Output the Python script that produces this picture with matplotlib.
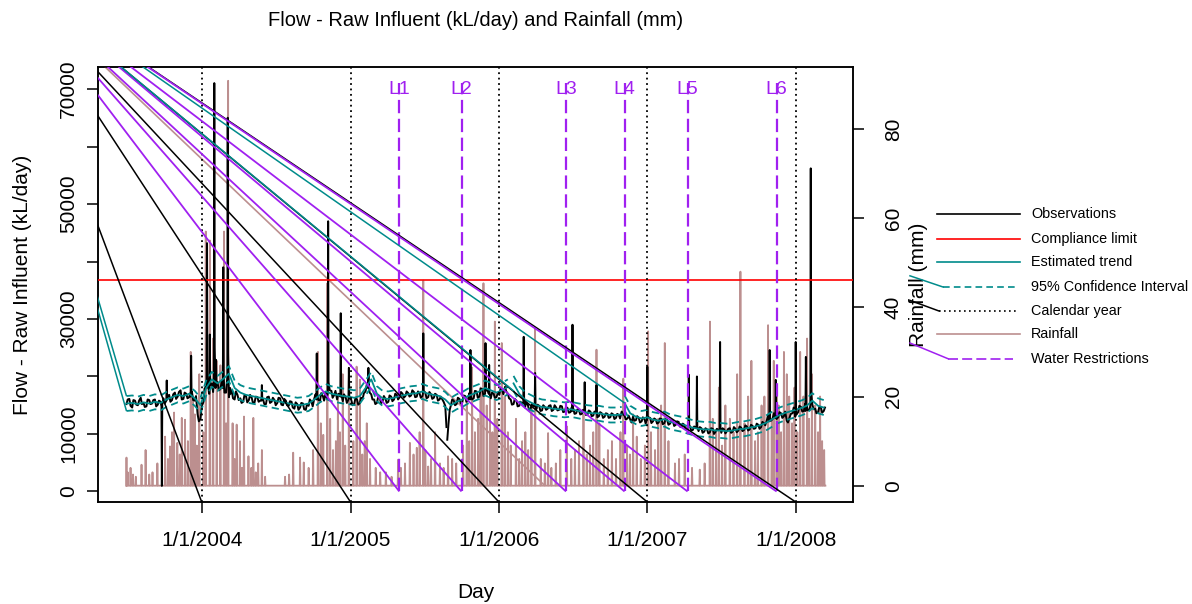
import numpy as np
import pandas as pd
import matplotlib
matplotlib.use("Agg")
import matplotlib.pyplot as plt
import matplotlib.dates as mdates

plt.rcParams['font.family'] = ['Liberation Sans', 'DejaVu Sans']

W, H, DPI = 1192, 604, 100

# ---------------------------------------------------------------- data
# Raw influent flow, thousand kL/day: weekly readings plus mid-week readings.
flow_seg1_start = "2003-06-30"
flow_seg1_weekly = [
    15.2, 16.1, 14.6, 15.8,
    15.0, 16.3, 15.4, 14.8, 15.9,
    15.3, 16.0, 15.1, 15.6,
    16.2, 15.4, 16.8, 15.9, 17.2,
    16.5, 17.6, 16.1, 17.0,
    16.4, 17.3, 15.8, 13.4, 12.6,
    15.5, 18.2, 17.0, 18.8,
    17.5, 19.0, 17.8, 18.4,
    17.2, 16.4, 17.6, 16.0, 16.8,
    16.2, 15.6, 16.6, 15.9,
    16.3, 15.5, 16.4, 15.8,
    16.0, 15.2, 16.5, 15.6, 15.9,
    15.4, 16.2, 15.0, 15.8,
    14.9, 15.6, 14.4, 15.2,
    14.6, 15.3, 14.2, 14.9, 15.6,
    16.2, 17.0, 15.8, 16.6,
    17.2, 16.4, 17.5, 16.8,
    16.0, 16.9, 15.7, 16.4, 15.5,
    15.9, 15.2, 16.0, 15.4,
    16.2, 17.4, 18.3, 16.9,
    16.0, 15.4, 16.3, 15.7,
    16.1, 15.6, 16.5, 16.0, 16.8,
    16.4, 17.0, 16.6, 17.1,
    16.7, 17.3, 16.5, 17.0,
    16.6, 17.2, 16.4, 16.9,
    16.3, 16.8, 16.0,
]
flow_seg1_midweek = [
    16.0, 14.9, 15.9, 15.1,
    15.8, 15.2, 14.7, 16.0, 15.2,
    15.9, 14.8, 15.8, 15.0,
    15.3, 16.6, 15.6, 16.9, 16.1,
    17.3, 16.0, 17.2, 16.2,
    17.1, 15.9, 16.6, 12.2, 14.8,
    17.9, 16.8, 18.9, 17.3,
    18.7, 17.6, 19.1, 17.2,
    16.5, 17.5, 16.2, 17.4, 15.9,
    15.4, 16.7, 15.5, 16.8,
    15.4, 16.5, 15.6, 16.7,
    15.2, 16.4, 15.4, 16.3, 15.0,
    16.3, 15.1, 16.1, 15.0,
    15.7, 14.6, 15.5, 14.2,
    15.4, 14.3, 15.2, 16.0, 14.8,
    16.9, 15.9, 17.1, 15.8,
    16.2, 17.6, 16.3, 17.5,
    17.0, 15.8, 16.9, 15.4, 16.4,
    15.0, 16.2, 15.1, 16.3,
    17.1, 18.6, 17.2, 16.0,
    15.2, 16.4, 15.3, 16.6,
    15.4, 16.7, 15.7, 17.0, 16.0,
    17.3, 16.3, 17.4, 16.5,
    17.6, 16.4, 17.4, 16.3,
    17.4, 16.2, 17.3, 16.1,
    17.0, 15.8, 16.5,
]
flow_seg1_tail = [("2005-08-18", 15.6), ("2005-08-22", 14.9), ("2005-08-25", 11.2)]

flow_seg2_head = [("2005-08-27", 9.0), ("2005-08-30", 11.8), ("2005-09-02", 14.2)]
flow_seg2_start = "2005-09-05"
flow_seg2_weekly = [
    15.0, 15.8, 15.2, 16.1,
    15.5, 16.6, 15.9, 17.0,
    16.2, 17.4, 16.5, 17.8,
    16.9, 17.5, 16.2, 17.0, 16.4,
    16.8, 17.6, 18.2, 17.0,
    16.0, 15.2, 15.8, 14.9,
    15.3, 14.6, 15.1, 14.4, 14.9,
    14.3, 14.9, 14.1, 14.7,
    14.4, 15.0, 14.2, 14.6,
    14.2, 14.8, 13.9, 14.5,
    13.8, 14.4, 13.6, 14.1, 13.5,
    14.0, 13.4, 13.9, 13.2,
    13.7, 13.1, 13.6, 13.0,
    13.5, 12.9, 13.4, 12.8, 13.3,
    13.9, 13.2, 12.7, 12.5,
    13.0, 12.4, 12.8, 12.2,
    12.6, 12.1, 12.8, 12.2, 12.5,
    12.0, 12.6, 11.9, 12.4,
    11.8, 12.3, 11.6, 12.1,
    11.2, 11.6, 10.9, 11.3,
    10.7, 11.2, 10.5, 11.0, 10.4,
    10.8, 10.3, 10.9, 10.4,
    10.7, 10.2, 10.8, 10.5,
    11.0, 10.4, 10.9, 10.6, 11.1,
    10.7, 11.3, 10.8, 11.4,
    11.0, 11.6, 11.2, 11.9,
    12.4, 13.1, 12.6, 13.4,
    12.9, 13.6, 13.1, 12.3, 12.9,
    13.6, 14.4, 13.8, 14.7,
    14.0, 14.9, 14.2, 15.1,
    14.4, 13.8, 14.6, 14.0,
]
flow_seg2_midweek = [
    16.0, 15.0, 16.3, 15.3,
    16.7, 15.6, 17.1, 16.0,
    17.5, 16.3, 17.9, 16.6,
    17.8, 16.4, 17.2, 16.3, 17.1,
    17.9, 16.9, 17.4, 16.2,
    15.1, 16.1, 14.8, 15.6,
    14.5, 15.4, 14.2, 15.2, 14.1,
    15.1, 14.0, 15.0, 14.2,
    14.9, 14.0, 15.0, 14.1,
    14.9, 13.8, 14.7, 13.7,
    14.6, 13.5, 14.3, 13.4, 14.2,
    13.3, 14.1, 13.1, 13.9,
    12.9, 13.8, 12.8, 13.6,
    12.8, 13.6, 12.6, 13.5, 12.7,
    13.4, 12.5, 13.2, 12.0,
    12.3, 13.1, 12.0, 12.9,
    11.8, 12.9, 11.9, 12.7, 11.8,
    12.7, 11.7, 12.6, 11.6,
    12.4, 11.4, 12.2, 11.3,
    11.8, 10.8, 11.6, 10.6,
    11.3, 10.3, 11.2, 10.2, 11.0,
    10.1, 11.0, 10.0, 10.9,
    10.0, 11.0, 10.1, 10.9,
    10.2, 11.2, 10.3, 11.3, 10.5,
    11.5, 10.6, 11.6, 10.9,
    11.8, 10.9, 12.1, 11.5,
    13.3, 12.3, 13.6, 12.6,
    13.8, 12.8, 13.9, 12.0, 13.5,
    14.6, 13.4, 14.9, 13.9,
    15.2, 14.1, 15.4, 14.3,
    13.6, 14.7, 13.7, 14.6,
]

# Storm-event days: peak date and flows on (day before, peak day, day after)
flow_events = [
    ("2003-09-25", [14.8, 0.97, 15.2]),
    ("2003-10-07", [15.8, 19.3, 16.0]),
    ("2003-12-06", [16.5, 23.6, 17.0]),
    ("2004-01-14", [18.0, 43.2, 20.0]),
    ("2004-01-21", [17.0, 27.3, 18.5]),
    ("2004-02-01", [19.0, 71.03, 25.0]),
    ("2004-02-05", [18.0, 22.9, 18.5]),
    ("2004-02-23", [18.0, 39.0, 20.0]),
    ("2004-03-05", [20.0, 65.0, 24.0]),
    ("2004-03-11", [17.5, 18.0, 17.0]),
    ("2004-05-28", [15.8, 18.5, 16.0]),
    ("2004-10-10", [16.0, 24.0, 16.8]),
    ("2004-11-07", [17.0, 47.0, 19.0]),
    ("2004-12-08", [16.5, 31.0, 17.0]),
    ("2004-12-28", [16.0, 21.5, 16.5]),
    ("2005-02-14", [18.0, 21.5, 19.0]),
    ("2005-06-29", [17.0, 27.5, 17.5]),
    ("2005-10-23", [16.0, 24.6, 16.5]),
    ("2005-11-29", [17.0, 25.8, 17.5]),
    ("2005-12-08", [17.0, 22.0, 17.0]),
    ("2006-03-03", [15.5, 26.9, 16.0]),
    ("2006-03-31", [14.8, 20.6, 15.0]),
    ("2006-07-01", [14.0, 29.0, 14.5]),
    ("2006-07-31", [13.8, 19.0, 14.0]),
    ("2006-08-29", [13.6, 18.5, 13.8]),
    ("2007-01-01", [12.6, 21.7, 13.0]),
    ("2007-04-13", [11.5, 20.3, 11.6]),
    ("2007-05-03", [11.0, 20.0, 11.2]),
    ("2007-06-29", [10.8, 26.0, 11.0]),
    ("2007-10-29", [12.2, 24.6, 12.5]),
    ("2007-11-13", [12.8, 19.4, 13.0]),
    ("2008-01-01", [13.0, 26.0, 13.4]),
    ("2008-01-26", [14.0, 23.4, 14.2]),
    ("2008-02-07", [15.0, 56.2, 17.0]),
]

# Estimated trend (thousand kL/day), fortnightly, three model segments
trend_a_start = "2003-06-30"
trend_a = [
    15.3, 15.4, 15.2, 15.5, 15.3, 15.6, 15.4, 16.0, 16.4, 16.8, 16.6, 17.0, 16.2, 15.0,
    18.0, 19.5, 18.8, 19.6, 20.5, 18.0, 17.2, 16.8, 16.6, 16.4, 16.2, 16.0, 15.8,
    15.6, 15.4, 15.2, 15.0, 15.1, 15.3, 16.0, 16.8, 17.4, 17.0, 16.8, 16.6, 16.5,
    16.3, 16.6, 18.0, 19.5, 17.0, 16.2, 16.1, 16.3, 16.6, 16.8, 17.0, 17.1, 17.4,
    17.0, 16.8, 16.6, 16.0, 15.0, 15.6, 16.0, 16.6, 17.0, 17.4, 18.0, 17.6, 17.2,
    17.6, 18.2,
]
trend_b_start = "2006-02-06"
trend_b = [18.8, 17.0, 16.0, 15.5, 15.0, 14.7, 14.6, 14.4, 14.3, 14.2,
           14.3, 14.1, 13.9, 13.7, 13.6, 13.6, 13.4, 13.3, 13.3, 13.4]
trend_c_start = "2006-11-06"
trend_c = [15.4, 13.6, 13.0, 12.7, 12.9, 12.5, 12.3, 12.6, 12.1, 11.9, 11.7, 11.4,
           11.1, 10.9, 10.8, 10.8, 10.6, 10.6, 10.5, 10.6, 10.8, 10.9, 11.1, 11.3,
           11.6, 12.0, 12.6, 13.2, 13.6, 13.9, 14.2, 14.5, 14.9, 15.8, 14.9, 14.6]
ci_halfwidth = 1.3   # thousand kL/day

# Daily rainfall (mm): rain days only, all other days are dry
rain_start, rain_end = "2003-06-29", "2008-03-14"
rain_days = [
    ("2003-06-30", 6.3), ("2003-07-03", 3.0), ("2003-07-10", 4.0), ("2003-07-16", 2.5),
    ("2003-07-23", 2.0), ("2003-08-06", 4.7), ("2003-08-16", 8.0), ("2003-08-25", 2.5),
    ("2003-09-02", 3.0), ("2003-09-14", 5.0), ("2003-10-03", 11.0), ("2003-10-10", 6.0),
    ("2003-10-15", 8.8), ("2003-10-20", 12.0), ("2003-10-25", 16.4), ("2003-11-02", 9.6),
    ("2003-11-08", 7.0), ("2003-11-13", 15.2), ("2003-11-21", 14.8), ("2003-11-28", 10.0),
    ("2003-12-05", 30.0), ("2003-12-10", 20.0), ("2003-12-15", 16.0), ("2003-12-20", 9.0),
    ("2003-12-26", 25.0), ("2004-01-05", 12.0), ("2004-01-11", 57.0),
    ("2004-01-21", 55.0), ("2004-01-29", 33.0), ("2004-02-07", 28.0),
    ("2004-02-16", 27.0), ("2004-02-25", 57.0),
    ("2004-03-01", 14.0), ("2004-03-06", 90.8), ("2004-03-17", 14.0),
    ("2004-03-22", 6.0), ("2004-03-27", 13.7), ("2004-04-04", 10.0), ("2004-04-09", 4.0),
    ("2004-04-14", 15.5), ("2004-04-25", 6.6), ("2004-05-02", 4.0),
    ("2004-05-07", 15.2), ("2004-05-13", 3.0), ("2004-05-19", 5.0), ("2004-05-28", 8.0),
    ("2004-06-05", 2.0), ("2004-07-24", 2.0), ("2004-08-03", 2.5), ("2004-08-13", 7.4),
    ("2004-08-30", 6.3), ("2004-09-08", 5.2), ("2004-09-20", 4.0), ("2004-10-01", 8.0),
    ("2004-10-13", 30.0), ("2004-10-20", 14.0), ("2004-10-26", 11.4), ("2004-11-05", 45.4),
    ("2004-11-12", 15.0), ("2004-11-19", 8.0), ("2004-11-26", 10.0), ("2004-12-01", 20.0),
    ("2004-12-06", 12.0), ("2004-12-13", 25.0), ("2004-12-19", 9.0), ("2004-12-28", 22.0),
    ("2005-01-08", 10.0), ("2005-01-16", 26.7), ("2005-01-24", 23.8), ("2005-01-30", 7.0),
    ("2005-02-05", 10.0), ("2005-02-10", 14.0), ("2005-02-18", 6.0), ("2005-03-04", 4.0),
    ("2005-03-15", 3.0), ("2005-03-29", 3.0), ("2005-04-12", 2.0), ("2005-04-28", 5.8),
    ("2005-05-05", 4.0), ("2005-05-15", 5.0), ("2005-05-27", 9.6), ("2005-06-05", 7.0),
    ("2005-06-13", 8.5), ("2005-06-20", 12.0), ("2005-06-29", 46.0), ("2005-07-04", 8.0),
    ("2005-07-11", 4.3), ("2005-07-18", 6.0), ("2005-07-28", 12.0), ("2005-08-09", 5.0),
    ("2005-08-18", 4.0), ("2005-08-29", 6.6), ("2005-09-08", 6.0), ("2005-09-18", 5.0),
    ("2005-10-05", 9.0), ("2005-10-14", 19.0), ("2005-10-20", 10.0), ("2005-10-27", 26.5),
    ("2005-11-03", 12.0), ("2005-11-11", 15.0), ("2005-11-17", 22.0), ("2005-11-24", 45.4),
    ("2005-12-02", 18.0), ("2005-12-10", 20.0), ("2005-12-16", 12.0), ("2005-12-22", 36.8),
    ("2005-12-28", 15.0), ("2006-01-08", 32.0), ("2006-01-15", 20.0), ("2006-01-23", 12.0),
    ("2006-01-30", 9.0), ("2006-02-12", 15.0), ("2006-02-20", 6.0), ("2006-02-27", 10.0),
    ("2006-03-07", 12.0), ("2006-03-14", 8.0), ("2006-03-22", 18.0), ("2006-03-31", 35.2),
    ("2006-04-14", 6.0), ("2006-04-24", 5.0), ("2006-05-02", 11.8), ("2006-05-10", 4.0),
    ("2006-05-21", 5.0), ("2006-06-01", 8.0), ("2006-06-17", 13.3), ("2006-06-28", 6.0),
    ("2006-07-07", 8.0), ("2006-07-17", 10.0), ("2006-07-28", 16.0), ("2006-08-05", 7.0),
    ("2006-08-13", 9.0), ("2006-08-21", 12.0), ("2006-08-29", 30.5), ("2006-09-05", 14.0),
    ("2006-09-16", 6.0), ("2006-09-26", 8.0), ("2006-10-06", 10.0), ("2006-10-16", 6.0),
    ("2006-10-27", 12.0), ("2006-11-03", 24.0), ("2006-11-12", 9.0), ("2006-11-19", 7.0),
    ("2006-11-27", 16.0), ("2006-12-06", 11.0), ("2006-12-16", 6.0), ("2006-12-26", 9.0),
    ("2007-01-03", 34.6), ("2007-01-10", 12.0), ("2007-01-20", 8.0), ("2007-01-28", 15.0),
    ("2007-02-04", 18.0), ("2007-02-13", 32.0), ("2007-02-22", 10.0), ("2007-03-10", 5.0),
    ("2007-03-20", 6.0), ("2007-04-03", 7.0), ("2007-04-21", 4.0), ("2007-05-10", 3.6),
    ("2007-05-22", 5.0), ("2007-06-04", 36.8), ("2007-06-11", 15.0), ("2007-06-19", 12.0),
    ("2007-06-26", 22.0), ("2007-07-04", 9.0), ("2007-07-12", 18.0), ("2007-07-23", 15.0),
    ("2007-08-01", 12.0), ("2007-08-10", 25.0), ("2007-08-18", 48.0), ("2007-08-28", 14.0),
    ("2007-09-06", 20.0), ("2007-09-14", 28.0), ("2007-09-23", 10.0), ("2007-09-30", 12.0),
    ("2007-10-09", 18.0), ("2007-10-16", 20.0), ("2007-10-25", 36.0), ("2007-11-03", 15.0),
    ("2007-11-08", 28.0), ("2007-11-15", 22.0), ("2007-11-20", 18.0), ("2007-11-26", 12.0),
    ("2007-12-03", 30.0), ("2007-12-10", 25.0), ("2007-12-16", 20.0), ("2007-12-23", 14.0),
    ("2007-12-29", 22.0), ("2008-01-05", 12.0), ("2008-01-12", 30.0), ("2008-01-20", 20.0),
    ("2008-01-29", 33.0), ("2008-02-03", 15.0), ("2008-02-10", 25.0), ("2008-02-18", 18.0),
    ("2008-02-25", 12.0), ("2008-03-01", 20.0), ("2008-03-06", 10.0), ("2008-03-11", 8.0),
]

compliance_limit = 36800
year_starts = ["2004-01-01", "2005-01-01", "2006-01-01", "2007-01-01", "2008-01-01"]
year_labels = ["1/1/2004", "1/1/2005", "1/1/2006", "1/1/2007", "1/1/2008"]
restriction_dates = ["2005-05-01", "2005-10-01", "2006-06-15", "2006-11-06", "2007-04-10", "2007-11-15"]
restriction_labels = ["L1", "L2", "L3", "L4", "L5", "L6"]
restriction_top = 71000

flow_ticks = [0, 10000, 20000, 30000, 40000, 50000, 60000, 70000]
flow_ticklabels = ["0", "10000", "", "30000", "", "50000", "", "70000"]
rain_ticks = [0, 20, 40, 60, 80]

# ---------------------------------------------------------------- series
def weekly(start, vals, offset_days=0):
    idx = pd.date_range(start, periods=len(vals), freq="7D") + pd.Timedelta(days=offset_days)
    return pd.Series(vals, index=idx)


def add_points(series, pairs):
    extra = pd.Series([v for _, v in pairs], index=pd.to_datetime([d for d, _ in pairs]))
    out = pd.concat([series, extra])
    return out[~out.index.duplicated(keep="last")].sort_index()


def merge(*parts):
    out = pd.concat(parts)
    return out[~out.index.duplicated(keep="last")].sort_index()


gap = pd.Timestamp("2005-08-26")
seg1 = merge(weekly(flow_seg1_start, flow_seg1_weekly),
             weekly(flow_seg1_start, flow_seg1_midweek, 3))
seg1 = add_points(seg1, flow_seg1_tail)
seg2 = merge(weekly(flow_seg2_start, flow_seg2_weekly),
             weekly(flow_seg2_start, flow_seg2_midweek, 3))
seg2 = add_points(seg2, flow_seg2_head)
for day, vals in flow_events:
    peak = pd.Timestamp(day)
    pts = [((peak + pd.Timedelta(days=k - 1)).strftime("%Y-%m-%d"), v) for k, v in enumerate(vals)]
    if peak < gap:
        seg1 = add_points(seg1, pts)
    else:
        seg2 = add_points(seg2, pts)
flow_segments = [seg1 * 1000, seg2 * 1000]

trend_segments = [pd.Series(np.array(v) * 1000,
                            index=pd.date_range(s, periods=len(v), freq="14D"))
                  for s, v in [(trend_a_start, trend_a), (trend_b_start, trend_b),
                               (trend_c_start, trend_c)]]

rain = pd.Series(0.0, index=pd.date_range(rain_start, rain_end, freq="D"))
for day, mm in rain_days:
    rain[pd.Timestamp(day)] = mm

# ---------------------------------------------------------------- figure
TEAL = "#008B8B"
ROSY = "#BC8F8F"
PURPLE = "#A020F0"

fig = plt.figure(figsize=(W / DPI, H / DPI), dpi=DPI)
ax_l, ax_r, ax_t, ax_b = 98, 853, 67, 502
ax = fig.add_axes([ax_l / W, 1 - ax_b / H, (ax_r - ax_l) / W, (ax_b - ax_t) / H])
ax2 = ax.twinx()
ax.set_zorder(ax2.get_zorder() + 1)
ax.patch.set_visible(False)

xlim = (mdates.date2num(pd.Timestamp("2003-04-21")) - 0.06,
        mdates.date2num(pd.Timestamp("2008-05-20")) + 0.9)
ax.set_xlim(xlim)
ax.set_ylim(-1830, 73830)
ax2.set_ylim(-3.66, 93.9)

# rainfall (behind)
ax2.plot(rain.index, rain.values, color=ROSY, lw=1.3)

# observations
for s in flow_segments:
    ax.plot(s.index, s.values, color="black", lw=1.4, zorder=3)

# trend and confidence band
for s in trend_segments:
    ax.plot(s.index, s.values, color=TEAL, lw=1.3, zorder=4)
    for sign in (1, -1):
        ax.plot(s.index, s.values + sign * ci_halfwidth * 1000, color=TEAL, lw=1.3,
                ls=(0, (4, 2.5)), zorder=4)

ax.axhline(compliance_limit, color="red", lw=1.2, zorder=5)

for d in year_starts:
    ax.axvline(pd.Timestamp(d), color="black", lw=1.3, ls=(0, (1, 2)), zorder=5)

for d, lab in zip(restriction_dates, restriction_labels):
    t = pd.Timestamp(d)
    ax.plot([t, t], [0, restriction_top], color=PURPLE, lw=1.6, ls=(0, (6, 2.5)), zorder=5)
    ax.text(t, 70000, lab, color=PURPLE, ha="center", va="center", fontsize=14, zorder=6)

# stray path segments drawn from a common origin above the page
ox, oy = 1.2, H + 32
O_ax = ax.transData.inverted().transform((ox, oy))
O_rain = ax2.transData.inverted().transform((ox, oy))


def ray(target_ax, origin, x_end, y_end, color, lw):
    target_ax.plot([origin[0], x_end], [origin[1], y_end], color=color, lw=lw, zorder=5,
                   solid_capstyle="butt")


def dnum(d):
    return mdates.date2num(pd.Timestamp(d))


for d in year_starts:
    ray(ax, O_ax, dnum(d), -1830, "black", 1.1)
for d in restriction_dates:
    ray(ax, O_ax, dnum(d), 0, PURPLE, 1.3)
seg_a, seg_b, seg_c = trend_segments
for sign in (1, -1):
    ray(ax, O_ax, dnum(seg_a.index[0]), seg_a.values[0] + sign * ci_halfwidth * 1000, TEAL, 1.1)
ray(ax, O_ax, dnum(seg_b.index[0]), seg_b.values[0] - ci_halfwidth * 1000, TEAL, 1.1)
ray(ax, O_ax, dnum(seg_c.index[0]), seg_c.values[0], TEAL, 1.1)
ray(ax2, O_rain, dnum("2006-04-24"), 0, ROSY, 1.2)

# ---------------------------------------------------------------- axes styling
tick_len = 8
for a in (ax, ax2):
    for sp in a.spines.values():
        sp.set_linewidth(1.1)
ax.set_xticks([dnum(d) for d in year_starts])
ax.set_xticklabels(year_labels)
ax.set_yticks(flow_ticks)
ax.set_yticklabels(flow_ticklabels)
ax2.set_yticks(rain_ticks)
ax2.set_yticklabels([str(v) for v in rain_ticks])
ax.tick_params(axis="x", length=tick_len, width=1.1, labelsize=15, pad=20)
ax.tick_params(axis="y", length=tick_len, width=1.1, labelsize=15, pad=13, labelrotation=90)
ax2.tick_params(axis="y", length=tick_len, width=1.1, labelsize=15, pad=21, labelrotation=90)
plt.setp(ax.get_xticklabels(), va="center")
plt.setp(ax.get_yticklabels(), va="center", ha="center")
plt.setp(ax2.get_yticklabels(), va="center", ha="center")

ax.set_xlabel("Day", fontsize=15, va="center")
ax.xaxis.set_label_coords(0.5, (ax_b - 593) / (ax_b - ax_t))
ax.set_ylabel("Flow - Raw Influent (kL/day)", fontsize=15, va="center")
ax.yaxis.set_label_coords((22 - ax_l) / (ax_r - ax_l), 0.5)
ax2.set_ylabel("Rainfall (mm)", fontsize=15, va="center", rotation=90)
ax2.yaxis.set_label_coords((918 - ax_l) / (ax_r - ax_l), 0.5)

fig.text(476 / W, 1 - 20 / H, "Flow - Raw Influent (kL/day) and Rainfall (mm)",
         ha="center", va="center", fontsize=14.5)

# ---------------------------------------------------------------- legend
ov = fig.add_axes([0, 0, 1, 1], zorder=10)
ov.set_xlim(0, W)
ov.set_ylim(H, 0)
ov.axis("off")

legend_rows = [214, 239.3, 262.3, 287, 311, 334, 358.7]
legend_items = [
    ("Observations", "black", "-", 937, 1020),
    ("Compliance limit", "red", "-", 937, 1020),
    ("Estimated trend", TEAL, "-", 937, 1020),
    ("95% Confidence Interval", TEAL, (0, (4, 2.5)), 943, 1018),
    ("Calendar year", "black", (0, (1, 2)), 939, 1018),
    ("Rainfall", ROSY, "-", 937, 1020),
    ("Water Restrictions", PURPLE, (0, (6, 2.5)), 948, 1013),
]
box_left = 910
for y, (lab, col, ls, x0, x1) in zip(legend_rows, legend_items):
    ov.plot([x0, x1], [y, y], color=col, ls=ls, lw=1.2)
    ov.text(1031, y, lab, ha="left", va="center", fontsize=10.4)
    if ls != "-":
        # origin-to-line stroke, visible only inside the legend box
        oy_img = -32
        slope = (y - oy_img) / (x0 - ox)
        ov.plot([box_left, x0], [oy_img + slope * (box_left - ox), y], color=col, lw=1.1)

fig.savefig("out.png", dpi=DPI)
